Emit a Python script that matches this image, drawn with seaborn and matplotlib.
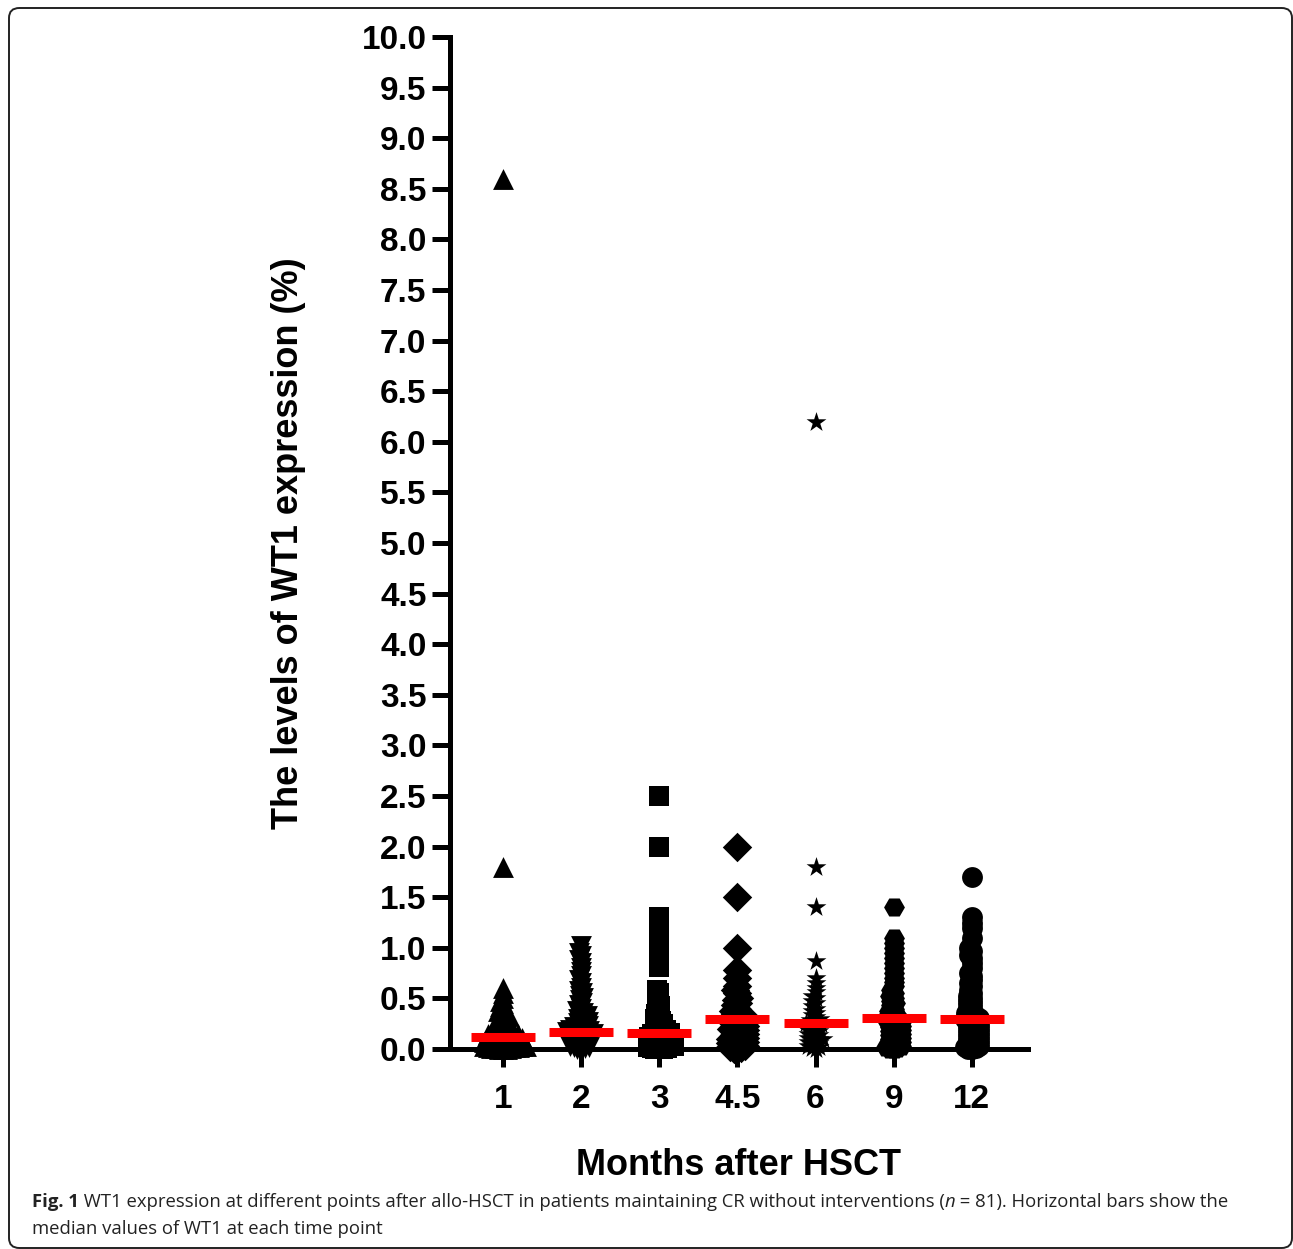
import pandas as pd
import matplotlib.pyplot as plt
import seaborn as sns
from matplotlib.patches import FancyBboxPatch

# WT1 levels (%), one list per time point
months = ['1', '2', '3', '4.5', '6', '9', '12']
markers = ['^', 'v', 's', 'D', '*', 'H', 'o']
medians = [0.12, 0.17, 0.16, 0.30, 0.26, 0.31, 0.30]

m1 = [8.6, 1.8, 0.6, 0.55, 0.5, 0.47, 0.45, 0.42, 0.4, 0.38, 0.36, 0.35, 0.33, 0.32,
      0.3, 0.3, 0.28, 0.27, 0.26, 0.25, 0.24, 0.23, 0.22, 0.21, 0.2, 0.2, 0.19, 0.18,
      0.17, 0.16, 0.15, 0.15, 0.14, 0.14, 0.13, 0.13, 0.12, 0.12, 0.12, 0.11, 0.11,
      0.1, 0.1, 0.1, 0.09, 0.09, 0.08, 0.08, 0.08, 0.07, 0.07, 0.06, 0.06, 0.06, 0.05,
      0.05, 0.05, 0.04, 0.04, 0.04, 0.03, 0.03, 0.03, 0.02, 0.02, 0.02, 0.01, 0.01,
      0.01, 0.0, 0.0, 0.0]
m2 = [1.02, 0.95, 0.92, 0.88, 0.85, 0.8, 0.76, 0.72, 0.68, 0.65, 0.6, 0.57, 0.55, 0.52,
      0.5, 0.48, 0.45, 0.43, 0.4, 0.38, 0.36, 0.35, 0.33, 0.32, 0.3, 0.3, 0.28, 0.27,
      0.26, 0.25, 0.24, 0.23, 0.22, 0.21, 0.2, 0.2, 0.19, 0.18, 0.18, 0.17, 0.17, 0.16,
      0.16, 0.15, 0.15, 0.14, 0.14, 0.13, 0.12, 0.12, 0.11, 0.1, 0.1, 0.09, 0.08, 0.08,
      0.07, 0.06, 0.06, 0.05, 0.04, 0.04, 0.03, 0.02, 0.02, 0.01, 0.0, 0.0]
m3 = [2.5, 2.0, 1.3, 1.25, 1.2, 1.15, 1.1, 1.05, 1.0, 0.95, 0.9, 0.85, 0.81, 0.58, 0.55,
      0.5, 0.45, 0.42, 0.4, 0.37, 0.35, 0.33, 0.3, 0.28, 0.27, 0.25, 0.24, 0.22, 0.21,
      0.2, 0.19, 0.18, 0.17, 0.16, 0.16, 0.15, 0.15, 0.14, 0.13, 0.12, 0.12, 0.11, 0.1,
      0.1, 0.09, 0.08, 0.08, 0.07, 0.06, 0.05, 0.05, 0.04, 0.03, 0.03, 0.02, 0.01, 0.01,
      0.0, 0.0, 0.0]
m45 = [2.0, 1.5, 1.0, 0.78, 0.7, 0.62, 0.58, 0.55, 0.5, 0.48, 0.45, 0.43, 0.4, 0.38,
       0.36, 0.35, 0.33, 0.32, 0.3, 0.3, 0.29, 0.28, 0.28, 0.27, 0.26, 0.25, 0.24, 0.23,
       0.22, 0.21, 0.2, 0.2, 0.19, 0.18, 0.17, 0.16, 0.15, 0.14, 0.13, 0.12, 0.11, 0.1,
       0.1, 0.09, 0.08, 0.07, 0.06, 0.05, 0.05, 0.04, 0.03, 0.02, 0.01, 0.0, 0.0]
m6 = [6.2, 1.8, 1.4, 0.87, 0.7, 0.65, 0.6, 0.56, 0.52, 0.5, 0.47, 0.45, 0.42, 0.4, 0.38,
      0.36, 0.34, 0.32, 0.3, 0.29, 0.28, 0.27, 0.26, 0.25, 0.25, 0.24, 0.23, 0.22, 0.21,
      0.2, 0.19, 0.18, 0.17, 0.16, 0.15, 0.14, 0.13, 0.12, 0.11, 0.1, 0.1, 0.09, 0.08,
      0.07, 0.06, 0.05, 0.04, 0.03, 0.02, 0.01, 0.0]
m9 = [1.4, 1.1, 1.05, 1.0, 0.95, 0.9, 0.85, 0.8, 0.75, 0.7, 0.66, 0.62, 0.58, 0.55, 0.52,
      0.5, 0.47, 0.45, 0.43, 0.4, 0.38, 0.36, 0.35, 0.33, 0.32, 0.3, 0.3, 0.29, 0.28,
      0.27, 0.26, 0.25, 0.24, 0.23, 0.22, 0.21, 0.2, 0.19, 0.18, 0.17, 0.16, 0.15, 0.14,
      0.13, 0.12, 0.11, 0.1, 0.09, 0.08, 0.07, 0.06, 0.05, 0.04, 0.03, 0.02, 0.01, 0.0,
      0.0]
m12 = [1.7, 1.3, 1.25, 1.2, 1.1, 1.0, 0.97, 0.93, 0.9, 0.85, 0.8, 0.75, 0.72, 0.68, 0.65,
       0.62, 0.58, 0.55, 0.52, 0.5, 0.48, 0.46, 0.44, 0.42, 0.4, 0.38, 0.36, 0.35, 0.34,
       0.32, 0.31, 0.3, 0.3, 0.29, 0.28, 0.27, 0.26, 0.25, 0.24, 0.23, 0.22, 0.21, 0.2,
       0.19, 0.18, 0.17, 0.16, 0.15, 0.14, 0.13, 0.12, 0.11, 0.1, 0.09, 0.08, 0.07, 0.06,
       0.05, 0.04, 0.03, 0.02, 0.01, 0.0, 0.0]
groups = [m1, m2, m3, m45, m6, m9, m12]

df = pd.concat([pd.DataFrame({'month': m, 'wt1': g}) for m, g in zip(months, groups)],
               ignore_index=True)

sns.set_theme(style='ticks')
plt.rcParams['font.family'] = ['Liberation Sans', 'DejaVu Sans']
plt.rcParams.update({'text.color': 'black', 'axes.labelcolor': 'black',
                     'xtick.color': 'black', 'ytick.color': 'black'})

W, H = 1293, 1249
fig = plt.figure(figsize=(W / 100, H / 100), dpi=100)
ax = fig.add_axes([450 / W, 1 - 1049 / H, 578 / W, 1012 / H])

# swarm laid out with small dots, then drawn with big overlapping markers
for m, mk in zip(months, markers):
    sns.swarmplot(data=df[df['month'] == m], x='month', y='wt1', order=months,
                  marker=mk, color='black', size=2.7, linewidth=0,
                  warn_thresh=1.01, ax=ax, zorder=3)

ax.set_xlim(-0.68, 6.72)
ax.set_ylim(0, 10)
ax.set_yticks([i * 0.5 for i in range(21)])
ax.set_yticklabels([f'{i * 0.5:.1f}' for i in range(21)])

fig.canvas.draw()
for c in ax.collections:
    if 'draw' in vars(c):
        del c.draw
    c.set_sizes([15 ** 2])
    c.set_clip_on(False)

# median bars
ax.hlines(medians, [i - 0.41 for i in range(len(months))],
          [i + 0.41 for i in range(len(months))], color='#ff0000', lw=6.5,
          zorder=5, clip_on=False)

sns.despine(ax=ax)
for s in ['left', 'bottom']:
    ax.spines[s].set_linewidth(3.6)
    ax.spines[s].set_color('black')
ax.tick_params(axis='both', length=13, width=3.6, color='black', labelsize=24)
ax.tick_params(axis='x', pad=12)
ax.tick_params(axis='y', pad=4)
for lab in ax.get_xticklabels() + ax.get_yticklabels():
    lab.set_fontweight('bold')
ax.set_xlabel('Months after HSCT', fontsize=26, fontweight='bold', labelpad=24)
ax.set_ylabel('The levels of WT1 expression (%)', fontsize=26, fontweight='bold',
              labelpad=40)

# frame around the figure panel
fig.patches.append(FancyBboxPatch((9 / W, 1 - 1248 / H), 1283 / W, 1240 / H,
                                  boxstyle='round,pad=0,rounding_size=0.008',
                                  transform=fig.transFigure, fill=False,
                                  edgecolor='#222222', lw=1.4))

# caption, drawn run by run
rend = fig.canvas.get_renderer()


def write_runs(px, py, runs, size=13.3):
    x = px / W
    for text, kw in runs:
        t = fig.text(x, 1 - py / H, text, fontsize=size, va='baseline',
                     family='Open Sans', color='#222222', **kw)
        x += t.get_window_extent(renderer=rend).width / W


write_runs(32, 1207, [
    ('Fig. 1', {'fontweight': 'bold'}),
    ('\u00a0WT1 expression at different points after allo-HSCT in patients maintaining '
     'CR without interventions (', {}),
    ('n', {'style': 'italic'}),
    ('\u00a0=\u00a081). Horizontal bars show the', {}),
])
write_runs(32, 1234, [('median values of WT1 at each time point', {})])

fig.savefig('out.png', dpi=100)
